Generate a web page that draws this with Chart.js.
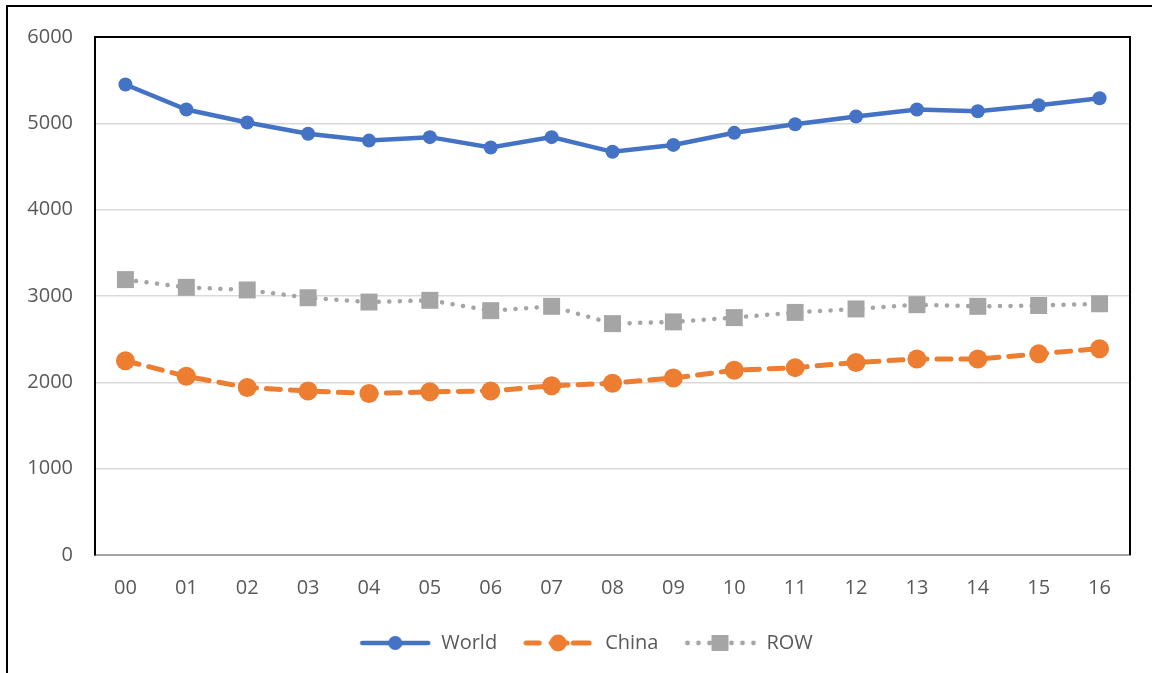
<!DOCTYPE html>
<html>
<head>
<meta charset="utf-8">
<script src="https://cdn.jsdelivr.net/npm/chart.js@4.4.1/dist/chart.umd.min.js"></script>
<style>
  html, body { margin: 0; padding: 0; background: #fff; }
  #wrap { width: 1152px; height: 673px; position: relative; }
</style>
</head>
<body>
<div id="wrap"><canvas id="c" width="1152" height="673"></canvas></div>
<script>
const categories = ['00','01','02','03','04','05','06','07','08','09','10','11','12','13','14','15','16'];
const world = [5450, 5160, 5010, 4880, 4800, 4840, 4720, 4840, 4670, 4750, 4890, 4990, 5080, 5160, 5140, 5210, 5290];
const china = [2250, 2070, 1940, 1900, 1870, 1890, 1900, 1960, 1990, 2050, 2140, 2170, 2230, 2270, 2270, 2330, 2390];
const row   = [3190, 3100, 3070, 2980, 2930, 2950, 2830, 2880, 2680, 2700, 2750, 2810, 2850, 2900, 2880, 2890, 2910];
const seriesNames = ['World', 'China', 'ROW'];

const BLUE = '#4472C4', ORANGE = '#ED7D31', GRAY = '#A5A5A5', TEXT = '#595959';
const FONT = "'Open Sans', 'Noto Sans', sans-serif";

function legendIcon(kind) {
  const c = document.createElement('canvas');
  c.width = 72; c.height = 24;
  const g = c.getContext('2d');
  g.lineCap = 'round';
  if (kind === 'World') {
    g.strokeStyle = BLUE; g.lineWidth = 4.5;
    g.beginPath(); g.moveTo(3, 12); g.lineTo(69, 12); g.stroke();
    g.fillStyle = BLUE; g.beginPath(); g.arc(36, 12, 7, 0, Math.PI * 2); g.fill();
  } else if (kind === 'China') {
    g.strokeStyle = ORANGE; g.lineWidth = 5;
    g.beginPath(); g.moveTo(3, 12); g.lineTo(16, 12); g.stroke();
    g.beginPath(); g.moveTo(50, 12); g.lineTo(66, 12); g.stroke();
    g.beginPath(); g.moveTo(28, 12); g.lineTo(44, 12); g.stroke();
    g.fillStyle = ORANGE; g.beginPath(); g.arc(35, 12, 8.5, 0, Math.PI * 2); g.fill();
  } else {
    g.fillStyle = GRAY;
    [3, 14, 25, 47, 58, 69].forEach(x => { g.beginPath(); g.arc(x, 12, 2.4, 0, Math.PI * 2); g.fill(); });
    g.fillRect(27, 4, 17, 16);
  }
  return c;
}

const framePlugin = {
  id: 'frame',
  afterLayout(chart) {
    const lg = chart.legend;
    if (lg) { lg.left += 21; lg.right += 21; if (lg.adjustHitBoxes) lg.adjustHitBoxes(); }
  },
  beforeDraw(chart) {
    const ctx = chart.ctx;
    ctx.save();
    ctx.fillStyle = '#fff';
    ctx.fillRect(0, 0, chart.width, chart.height);
    ctx.restore();
  },
  afterDraw(chart) {
    const ctx = chart.ctx, a = chart.chartArea;
    ctx.save();
    ctx.strokeStyle = '#000';
    ctx.lineWidth = 2;
    ctx.beginPath();
    ctx.moveTo(7, 673); ctx.lineTo(7, 6); ctx.lineTo(1152, 6);
    ctx.stroke();
    ctx.beginPath();
    ctx.moveTo(a.left, a.top); ctx.lineTo(a.right, a.top); ctx.lineTo(a.right, a.bottom);
    ctx.stroke();
    ctx.restore();
  }
};

new Chart(document.getElementById('c'), {
  type: 'line',
  data: {
    labels: categories,
    datasets: [
      {
        label: seriesNames[0], data: world,
        borderColor: BLUE, backgroundColor: BLUE, borderWidth: 4.5,
        pointStyle: 'circle', pointRadius: 7, pointHoverRadius: 7,
        pointBackgroundColor: BLUE, pointBorderWidth: 0, tension: 0
      },
      {
        label: seriesNames[1], data: china,
        borderColor: ORANGE, backgroundColor: ORANGE, borderWidth: 5,
        borderDash: [14, 10], borderCapStyle: 'round',
        pointStyle: 'circle', pointRadius: 9.5, pointHoverRadius: 9.5,
        pointBackgroundColor: ORANGE, pointBorderWidth: 0, tension: 0
      },
      {
        label: seriesNames[2], data: row,
        borderColor: GRAY, backgroundColor: GRAY, borderWidth: 4.5,
        borderDash: [0.1, 10.5], borderCapStyle: 'round',
        pointStyle: 'rect', pointRadius: 12, pointHoverRadius: 12,
        pointBackgroundColor: GRAY, pointBorderWidth: 0, tension: 0
      }
    ]
  },
  options: {
    responsive: false,
    animation: false,
    devicePixelRatio: 1,
    layout: { padding: { top: 37, right: 22, left: 0, bottom: 10 } },
    plugins: {
      tooltip: { enabled: false },
      legend: {
        position: 'bottom',
        labels: {
          usePointStyle: true,
          pointStyleWidth: 72,
          padding: 26,
          color: TEXT,
          font: { family: FONT, size: 20 },
          generateLabels(chart) {
            return chart.data.datasets.map((d, i) => ({
              text: d.label,
              pointStyle: legendIcon(d.label),
              fillStyle: d.borderColor,
              strokeStyle: d.borderColor,
              lineWidth: 0,
              fontColor: TEXT,
              hidden: false,
              datasetIndex: i
            }));
          }
        }
      }
    },
    scales: {
      x: {
        offset: true,
        grid: { display: false, drawTicks: false },
        border: { display: true, color: '#A6A6A6', width: 2 },
        ticks: { color: TEXT, font: { family: FONT, size: 20 }, padding: 21, maxRotation: 0 },
        afterFit(s) { s.height = 52; }
      },
      y: {
        min: 0, max: 6000,
        ticks: { stepSize: 1000, color: TEXT, font: { family: FONT, size: 20 }, padding: 22,
                 callback: (v) => String(v) },
        grid: { color: '#D9D9D9', lineWidth: 1.5, drawTicks: false },
        border: { display: true, color: '#000', width: 2 },
        afterFit(s) { s.width = 95; }
      }
    }
  },
  plugins: [framePlugin]
});
</script>
</body>
</html>
